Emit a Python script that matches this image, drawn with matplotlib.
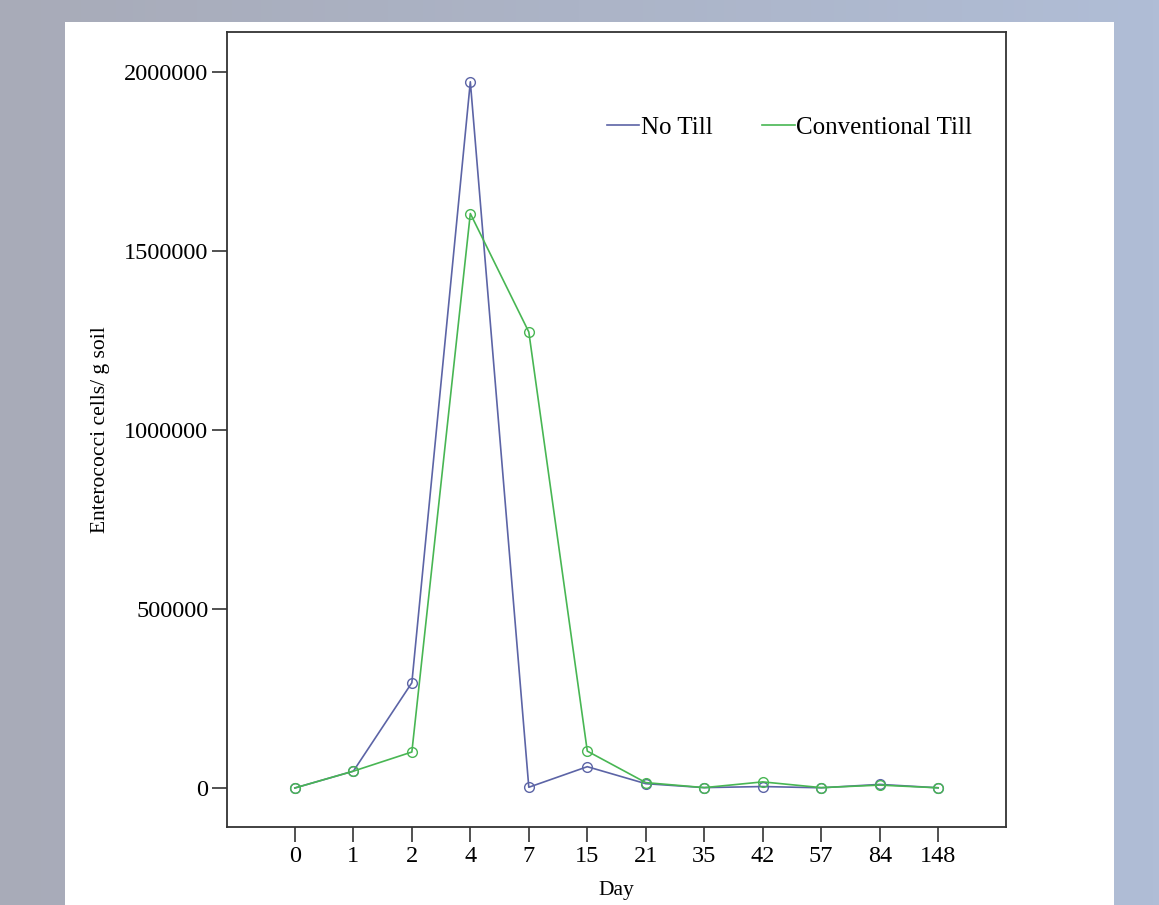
import numpy as np
import matplotlib
matplotlib.use('Agg')
import matplotlib.pyplot as plt
from matplotlib.patches import Rectangle

# Values
days = ['0', '1', '2', '4', '7', '15', '21', '35', '42', '57', '84', '148']
no_till = [0, 47000, 294000, 1973000, 2000, 59500, 12000, 1000, 4000, 500, 10000, 500]
conv_till = [0, 47000, 100500, 1605000, 1274000, 103000, 15000, 1000, 17000, 1000, 8000, 500]
y_ticks = [0, 500000, 1000000, 1500000, 2000000]

no_till_color = '#5c64a6'
conv_till_color = '#48b653'

plt.rcParams['font.family'] = ['Liberation Serif', 'DejaVu Serif']

fig = plt.figure(figsize=(11.59, 9.05), dpi=100)

# bluish-grey backdrop behind the white panel
bg = fig.add_axes([0, 0, 1, 1], zorder=-2)
grad_x = np.linspace(0, 1, 200)
left_col = np.array([168, 171, 184]) / 255.0
right_col = np.array([176, 189, 214]) / 255.0
row = left_col[None, :] * (1 - grad_x[:, None]) + right_col[None, :] * grad_x[:, None]
img = np.repeat(row[None, :, :], 50, axis=0)
bg.imshow(img, aspect='auto', extent=[0, 1, 0, 1])
bg.set_xlim(0, 1)
bg.set_ylim(0, 1)
bg.axis('off')
bg.add_patch(Rectangle((0.0561, 0.0), 0.9051, 0.9757, facecolor='white',
                       edgecolor='none'))

ax = fig.add_axes([0.1959, 0.0862, 0.6721, 0.8784])
x = np.arange(len(days))

ax.plot(x, no_till, color=no_till_color, linewidth=1.2, marker='o', markersize=7,
        markerfacecolor='none', markeredgewidth=1.0, label='No Till')
ax.plot(x, conv_till, color=conv_till_color, linewidth=1.2, marker='o', markersize=7,
        markerfacecolor='none', markeredgewidth=1.0, label='Conventional Till')

ax.set_xlim(-1.16, 12.16)
ax.set_ylim(-109000, 2112000)
ax.set_xticks(x)
ax.set_xticklabels(days)
ax.set_yticks(y_ticks)
ax.set_yticklabels([str(v) for v in y_ticks])

ax.tick_params(axis='both', direction='out', length=10.5, width=1.2, color='#333333',
               labelsize=17.5, pad=3)
for s in ax.spines.values():
    s.set_color('#333333')
    s.set_linewidth(1.3)

ax.set_xlabel('Day', fontsize=15.5, labelpad=10)
ax.set_ylabel('Enterococci cells/ g soil', fontsize=15.5, labelpad=10)

leg = ax.legend(loc='center', bbox_to_anchor=(0.722, 0.88), ncol=2, frameon=False,
                fontsize=18, handlelength=1.3, handletextpad=0.05, columnspacing=2.0)
for line in leg.get_lines():
    line.set_marker('')
    line.set_linewidth(1.2)

fig.savefig('out.png', dpi=100)
